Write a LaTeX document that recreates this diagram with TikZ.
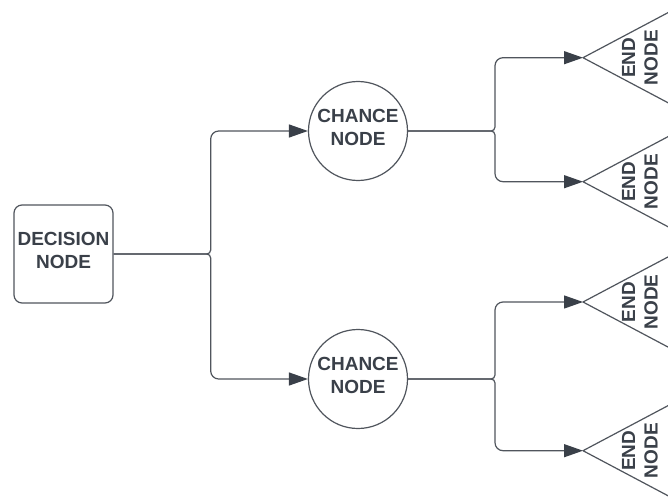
\documentclass[tikz,border=0pt]{standalone}
\usepackage{fontspec}
\setmainfont{Liberation Sans}
\usetikzlibrary{arrows.meta,calc}
\definecolor{ink}{HTML}{3A4049}
\definecolor{wire}{HTML}{50555D}
\tikzset{
  label text/.style={font=\bfseries\fontsize{19}{22.5}\selectfont, text=ink, align=center},
  decisionbox/.style={draw=wire, line width=1.2pt, rounded corners=8pt,
    minimum width=99pt, minimum height=98pt, inner sep=0pt, label text, text depth=7pt},
  chancebox/.style={draw=wire, line width=1.2pt, circle, minimum size=99pt,
    inner sep=0pt, label text, text depth=7pt},
  edgeline/.style={draw=wire, line width=1.2pt},
  conn/.style={draw=wire, line width=1.2pt,
    -{Triangle[length=19pt, width=13pt, fill=ink, color=ink]}},
}
\begin{document}
\begin{tikzpicture}[x=1pt, y=-1pt]
  \useasboundingbox (0,0) rectangle (668,497);
  \fill[white] (0,0) rectangle (668,497);
  \clip (0,0) rectangle (668,497);

  % decision and chance nodes
  \node[decisionbox] (dec) at (63.5,254) {DECISION\\NODE};
  \node[chancebox] (c1) at (358,131) {CHANCE\\NODE};
  \node[chancebox] (c2) at (358,379) {CHANCE\\NODE};

  % end nodes: left-pointing triangles running off the right edge
  \foreach \n/\y in {e1/57.7, e2/181.7, e3/302, e4/450.7} {
    \coordinate (\n) at (583,\y);
    \draw[edgeline, line join=round] ($(\n)+(120,-63.6)$) -- (\n) -- ($(\n)+(120,63.6)$);
    \node[label text, rotate=90] (\n t) at ($(\n)+(57,0)$) {END\\NODE};
  }

  % connectors: short notch at the fork, wider bends at the branch ends
  \draw[conn, rounded corners=4pt] (dec.east) -| (210.7,200) [rounded corners=8pt] |- (c1.west);
  \draw[conn, rounded corners=4pt] (dec.east) -| (210.7,300) [rounded corners=8pt] |- (c2.west);

  \draw[conn, rounded corners=4pt] (c1.east) -| (495,100) [rounded corners=8pt] |- (e1);
  \draw[conn, rounded corners=4pt] (c1.east) -| (495,160) [rounded corners=8pt] |- (e2);
  \draw[conn, rounded corners=4pt] (c2.east) -| (495,340) [rounded corners=8pt] |- (e3);
  \draw[conn, rounded corners=4pt] (c2.east) -| (495,420) [rounded corners=8pt] |- (e4);
\end{tikzpicture}
\end{document}
